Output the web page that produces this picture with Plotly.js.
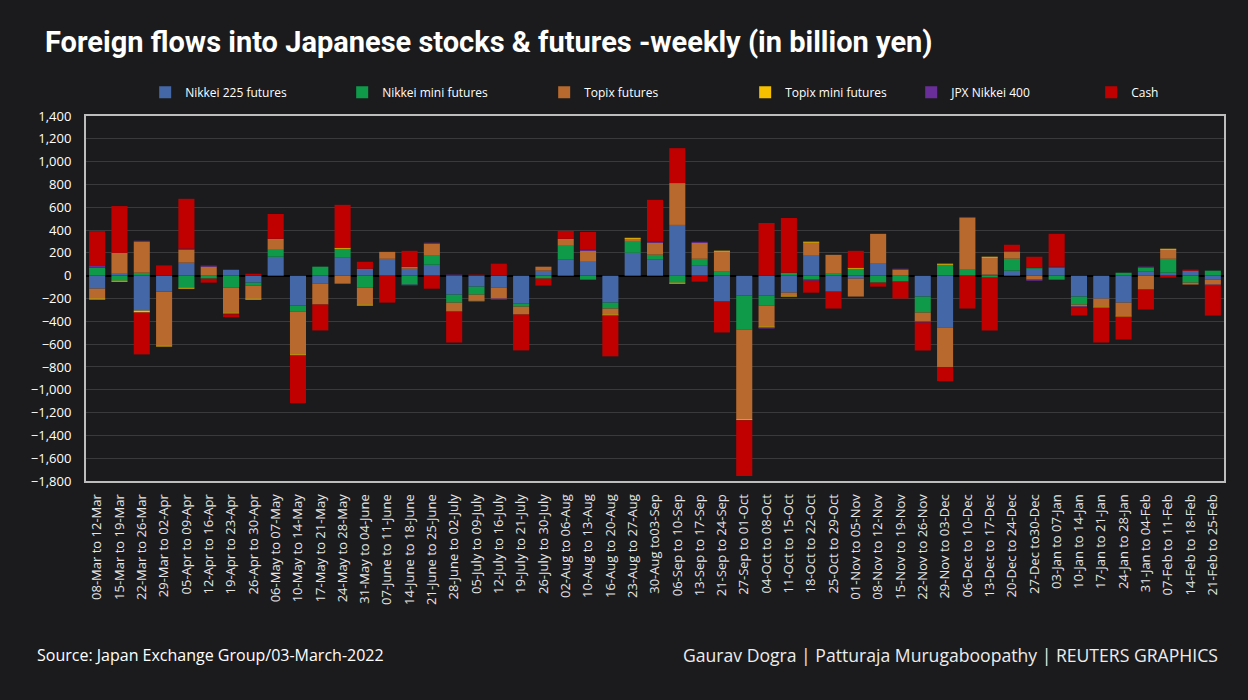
<!DOCTYPE html>
<html>
<head>
<meta charset="utf-8">
<script src="https://cdn.plot.ly/plotly-3.0.1.min.js"></script>
<style>
  html, body { margin: 0; padding: 0; background: #1b1b1d; }
  #chart { width: 1248px; height: 700px; }
</style>
</head>
<body>
<div id="chart"></div>
<script>
const weeks = [
  "08-Mar to 12-Mar","15-Mar to 19-Mar","22-Mar to 26-Mar","29-Mar to 02-Apr","05-Apr to 09-Apr",
  "12-Apr to 16-Apr","19-Apr to 23-Apr","26-Apr to 30-Apr","06-May to 07-May","10-May to 14-May",
  "17-May to 21-May","24-May to 28-May","31-May to 04-June","07-June to 11-June","14-June to 18-June",
  "21-June to 25-June","28-June to 02-July","05-July to 09-July","12-July to 16-July","19-July to 21-July",
  "26-July to 30-July","02-Aug to 06-Aug","10-Aug to 13-Aug","16-Aug to 20-Aug","23-Aug to 27-Aug",
  "30-Aug to03-Sep","06-Sep to 10-Sep","13-Sep to 17-Sep","21-Sep to 24-Sep","27-Sep to 01-Oct",
  "04-Oct to 08-Oct","11-Oct to 15-Oct","18-Oct to 22-Oct","25-Oct to 29-Oct","01-Nov to 05-Nov",
  "08-Nov to 12-Nov","15-Nov to 19-Nov","22-Nov to 26-Nov","29-Nov to 03-Dec","06-Dec to 10-Dec",
  "13-Dec to 17-Dec","20-Dec to 24-Dec","27-Dec to30-Dec","03-Jan to 07-Jan","10-Jan to 14-Jan",
  "17-Jan to 21-Jan","24-Jan to 28-Jan","31-Jan to 04-Feb","07-Feb to 11-Feb","14-Feb to 18-Feb",
  "21-Feb to 25-Feb"
];

const nikkei225 = [-113,17,-306,-140,114,0,52,-61,166,-262,-70,157,61,148,61,96,-166,-96,-105,-245,44,140,122,-236,201,140,445,87,-227,-175,-175,-148,175,-140,-26,105,0,-183,-454,0,9,44,61,70,-183,-201,-236,35,26,44,-35];
const nikkeiMini = [70,-44,26,0,-105,-26,-105,-26,61,-52,79,79,-105,0,-79,79,-70,-70,0,-26,-26,122,-35,-52,96,44,-61,61,35,-297,-87,26,-35,17,61,-61,-52,-140,96,52,-17,105,9,-35,-70,0,26,35,122,-61,44];
const topix = [-87,183,271,-472,114,79,-218,-114,96,-376,-183,-70,-148,61,17,105,-79,-44,-96,-70,35,61,96,-52,26,105,367,140,175,-786,-183,-26,114,166,-157,262,52,-79,-349,454,148,61,-35,0,-17,-70,-114,-122,79,-17,-44];
const topixMini = [-9,-9,-17,-9,-9,0,-9,-9,0,-9,0,9,-9,0,0,0,0,-9,0,0,0,0,0,-9,9,0,-9,0,9,-9,-9,-9,9,0,9,0,0,0,9,0,9,0,0,0,0,-9,-9,0,9,0,0];
const jpx400 = [15,0,9,0,9,9,-6,0,0,0,0,0,0,0,-6,9,9,-9,-9,0,0,0,9,0,0,9,0,9,0,0,-9,0,-9,0,0,0,9,-9,0,9,0,9,-9,9,-9,0,0,9,0,0,-9];
const cash = [305,410,-367,90,437,-35,-26,17,218,-419,-227,376,61,-236,140,-114,-271,9,105,-314,-61,70,157,-358,0,367,306,-52,-271,-489,463,480,-105,-148,148,-35,-148,-245,-122,-288,-463,52,96,288,-70,-306,-201,-175,-17,9,-262];

const seriesNames = ["Nikkei 225 futures","Nikkei mini futures","Topix futures","Topix mini futures","JPX Nikkei 400","Cash"];
const seriesValues = [nikkei225, nikkeiMini, topix, topixMini, jpx400, cash];
const seriesColors = ["#4467a8","#0f9a4a","#b8692e","#f5c000","#6a2e9a","#c00000"];
const legendWidths = [152, 157, 156, 121, 135, 60];

const yTicks = [1400,1200,1000,800,600,400,200,0,-200,-400,-600,-800,-1000,-1200,-1400,-1600,-1800];

const traces = seriesNames.map((name, i) => ({
  type: "bar",
  name: name,
  x: weeks,
  y: seriesValues[i],
  marker: { color: seriesColors[i], line: { width: 0 } },
  legendwidth: legendWidths[i],
  hovertemplate: "%{x}<br>" + name + ": %{y}<extra></extra>"
}));

const layout = {
  width: 1248,
  height: 700,
  paper_bgcolor: "#1b1b1d",
  plot_bgcolor: "#1b1b1d",
  barmode: "relative",
  bargap: 0.28,
  margin: { l: 86, r: 24, t: 116, b: 219 },
  font: { family: "Open Sans, sans-serif", color: "#ffffff", size: 13 },
  title: {
    text: "<b>Foreign flows into Japanese stocks & futures -weekly (in billion yen)</b>",
    font: { family: "Roboto, sans-serif", size: 29, color: "#ffffff" },
    x: 45 / 1248, xanchor: "left", xref: "container",
    y: 1 - 42 / 700, yanchor: "middle", yref: "container"
  },
  showlegend: true,
  legend: {
    orientation: "h",
    x: 0.052, xanchor: "left",
    y: 1.105, yanchor: "top",
    font: { size: 12, color: "#ffffff" },
    bgcolor: "rgba(0,0,0,0)",
    traceorder: "normal",
    itemwidth: 30
  },
  xaxis: {
    type: "category",
    tickangle: -90,
    tickfont: { size: 13, color: "#e6e6e6" },
    showgrid: false,
    showline: true,
    mirror: true,
    linecolor: "#bdbdbd",
    linewidth: 2,
    ticks: "",
    ticklabelstandoff: 6,
    zeroline: false
  },
  yaxis: {
    range: [-1800, 1400],
    tickvals: yTicks,
    tickformat: ",",
    tickfont: { size: 13, color: "#ffffff" },
    showgrid: true,
    gridcolor: "#3a3a3c",
    gridwidth: 1,
    zeroline: true,
    zerolinecolor: "#000000",
    zerolinewidth: 2,
    showline: true,
    mirror: true,
    linecolor: "#bdbdbd",
    linewidth: 2,
    ticks: "",
    ticklabelstandoff: 10
  },
  annotations: [
    {
      text: "Source: Japan Exchange Group/03-March-2022",
      xref: "paper", yref: "paper",
      x: (35 - 86) / 1138, xanchor: "left",
      y: (481 - 655) / 365, yanchor: "middle",
      showarrow: false,
      font: { family: "Open Sans, sans-serif", size: 16, color: "#ffffff" }
    },
    {
      text: "Gaurav Dogra | Patturaja Murugaboopathy | REUTERS GRAPHICS",
      xref: "paper", yref: "paper",
      x: (1220 - 86) / 1138, xanchor: "right",
      y: (481 - 655) / 365, yanchor: "middle",
      showarrow: false,
      font: { family: "Open Sans, sans-serif", size: 17.6, color: "#ececec" }
    }
  ]
};

Plotly.newPlot("chart", traces, layout, { displayModeBar: false, staticPlot: true });
</script>
</body>
</html>
